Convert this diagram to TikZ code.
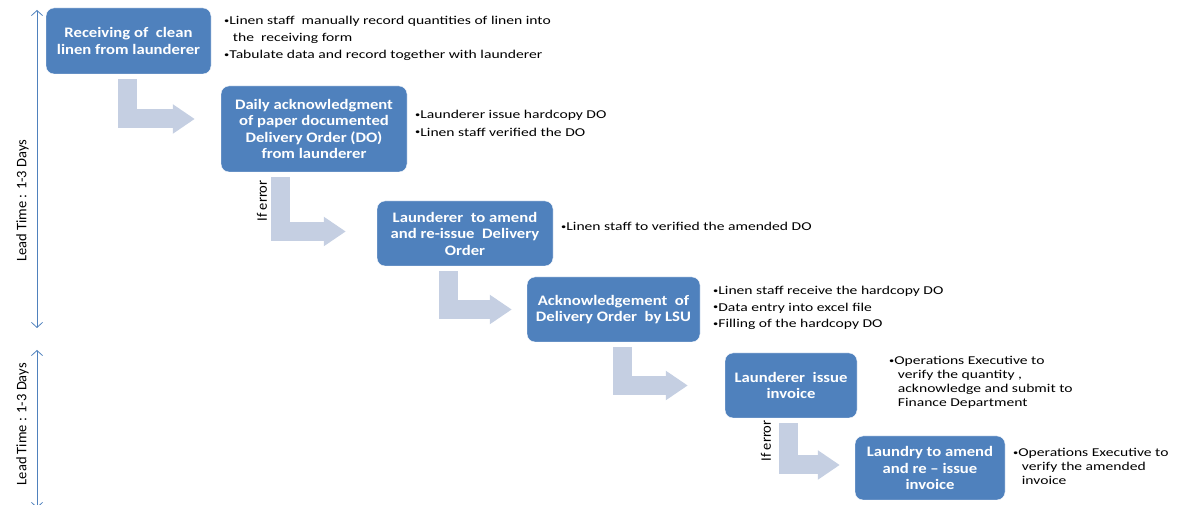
\documentclass[tikz,border=0pt]{standalone}
\usepackage{fontspec}
\setmainfont{Carlito}
\newfontfamily\notefont[FakeStretch=1.3]{Carlito}
\newfontfamily\stagefont[FakeStretch=1.15]{Carlito}
\usetikzlibrary{arrows.meta}
\definecolor{boxblue}{RGB}{79,129,189}
\definecolor{flowgray}{RGB}{197,207,226}
\newcommand{\bul}{\raisebox{0.25ex}{\fontsize{8}{8}\selectfont•}}
\newcommand{\bl}{\phantom{\bul}}
\begin{document}
\begin{tikzpicture}[x=1pt,y=1pt,
	stage/.style={rectangle,rounded corners=8pt,fill=boxblue,draw=white,thin,text=white,align=center,inner sep=2pt,font=\fontsize{14.5}{16.5}\stagefont\bfseries},
	note/.style={anchor=north west,align=left,inner sep=0pt,font=\fontsize{12}{16.5}\notefont},
	flow/.style={line width=19pt,flowgray,-{Triangle[width=28pt,length=22pt]},shorten <=5pt},
	lead/.style={thick,boxblue,{Straight Barb[length=5pt,width=11pt]}-{Straight Barb[length=5pt,width=11pt]}}]
	\useasboundingbox (0,0) rectangle (1187,505);
	% stages
	\node[stage,minimum width=165pt,minimum height=66pt] (b1) at (128.5,464) {Receiving of\ \ clean\\linen from launderer};
	\node[stage,minimum width=186pt,minimum height=86pt] (b2) at (314,376) {Daily acknowledgment\\of paper documented\\Delivery Order (DO)\\from launderer};
	\node[stage,minimum width=176pt,minimum height=65pt] (b3) at (465,271.5) {Launderer\ \ to amend\\and re-issue\ \ Delivery\\Order};
	\node[stage,minimum width=173pt,minimum height=65pt] (b4) at (613.5,195.5) {Acknowledgement\ \ of\\Delivery Order\ \ by LSU};
	\node[stage,minimum width=132pt,minimum height=65pt] (b5) at (791,119.5) {Launderer\ \ issue\\invoice};
	\node[stage,minimum width=150pt,minimum height=64pt] (b6) at (930,37) {Laundry to amend\\and re – issue\\invoice};
	% notes
	\node[note] (n1) at (224,489) {\bul Linen staff\ \ manually record quantities of linen into\\\bl\ the\ \ receiving form\\[1pt]\bul Tabulate data and record together with launderer};
	\node[note] (n2) at (415,395) {\bul Launderer issue hardcopy DO\\[1pt]\bul Linen staff verified the DO};
	\node[note] (n3) at (561,283) {\bul Linen staff to verified the amended DO};
	\node[note] (n4) at (713,219) {\bul Linen staff receive the hardcopy DO\\\bul Data entry into excel file\\\bul Filling of the hardcopy DO};
	\node[note,font=\fontsize{12}{14}\notefont] (n5) at (889,149) {\bul Operations Executive to\\\bl\ verify the quantity ,\\\bl\ acknowledge and submit to\\\bl\ Finance Department};
	\node[note,font=\fontsize{12}{14}\notefont] (n6) at (1013,57) {\bul Operations Executive to\\\bl\ verify the amended\\\bl\ invoice};
	% flow arrows
	\draw[flow,shorten >=26pt] ([xshift=-1.5pt]b1.south) |- ([yshift=10pt]b2.west);
	\draw[flow,shorten >=31pt] ([xshift=-33.5pt]b2.south) |- ([yshift=2pt]b3.west);
	\draw[flow,shorten >=15pt] ([xshift=-17pt]b3.south) |- (b4.west);
	\draw[flow,shorten >=37pt] ([xshift=8.5pt]b4.south) |- (b5.west);
	\draw[flow,shorten >=15pt] ([xshift=-3pt]b5.south) |- ([yshift=3pt]b6.west);
	\node[rotate=90,font=\fontsize{14.5}{16}\selectfont] (e1) at (262,304) {If error};
	\node[rotate=90,font=\fontsize{14.5}{16}\selectfont] (e2) at (766,64) {If error};
	% lead time
	\coordinate (t1) at (37,495);
	\coordinate (t2) at (37,177);
	\coordinate (t3) at (37,155);
	\coordinate (t4) at (37,-3);
	\draw[lead] (t2) -- (t1) node[pos=0.4,sloped,above=6pt,inner sep=2pt,text=black,font=\fontsize{14.5}{16}\selectfont]{Lead Time : 1-3 Days};
	\draw[lead] (t4) -- (t3) node[pos=0.53,sloped,above=6pt,inner sep=2pt,text=black,font=\fontsize{14.5}{16}\selectfont]{Lead Time : 1-3 Days};
\end{tikzpicture}
\end{document}
